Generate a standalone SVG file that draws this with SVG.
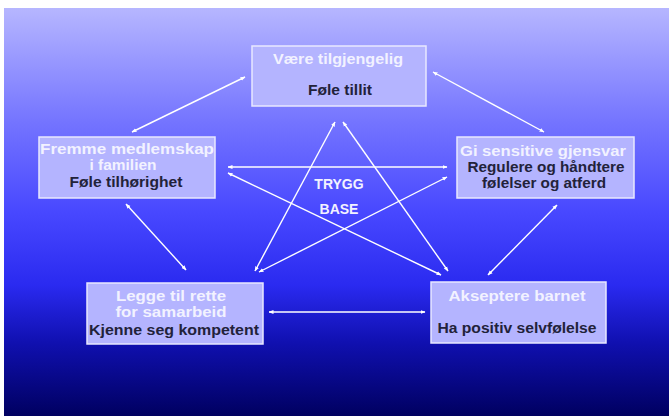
<svg xmlns="http://www.w3.org/2000/svg" width="669" height="416" viewBox="0 0 669 416">
<defs>
<linearGradient id="bg" x1="0" y1="0" x2="0" y2="1">
<stop offset="0" stop-color="#b6b6ff"/>
<stop offset="0.28" stop-color="#7474ff"/>
<stop offset="0.5" stop-color="#4848ff"/>
<stop offset="0.68" stop-color="#2a2af0"/>
<stop offset="0.82" stop-color="#1010b0"/>
<stop offset="1" stop-color="#000060"/>
</linearGradient>
<marker id="ah" viewBox="0 0 10 10" refX="9" refY="5" markerWidth="5" markerHeight="5" orient="auto-start-reverse" markerUnits="userSpaceOnUse">
<path d="M0,1 L10,5 L0,9 z" fill="#ffffff"/>
</marker>
<style>
.box{fill:#b4b4ff;stroke:#e8e8ff;stroke-width:1.5}
.h{font-family:"Liberation Sans",Arial,sans-serif;font-weight:bold;font-size:14px;fill:#f2f2ff;text-anchor:middle}
.t{font-family:"Liberation Sans",Arial,sans-serif;font-weight:bold;font-size:14px;fill:#22223a;text-anchor:middle}
.c{stroke:#ffffff;stroke-width:1.4;fill:none;marker-start:url(#ah);marker-end:url(#ah)}
</style>
</defs>
<rect x="0" y="0" width="669" height="416" fill="#ffffff"/>
<rect x="4" y="8" width="665" height="408" fill="url(#bg)"/>

<g id="connectors">
<line class="c" x1="245" y1="77" x2="132" y2="132"/>
<line class="c" x1="433" y1="72" x2="544" y2="132"/>
<line class="c" x1="126" y1="204" x2="186" y2="270"/>
<line class="c" x1="557" y1="205" x2="488" y2="275"/>
<line class="c" x1="228" y1="167" x2="447" y2="167"/>
<line class="c" x1="228" y1="173" x2="441" y2="275"/>
<line class="c" x1="447" y1="177" x2="259" y2="272"/>
<line class="c" x1="335" y1="122" x2="255" y2="271"/>
<line class="c" x1="343" y1="122" x2="448" y2="271"/>
<line class="c" x1="269" y1="312" x2="425" y2="312"/>
</g>

<g id="node-top">
<rect class="box" x="252" y="46" width="174" height="60"/>
<text class="h" x="338" y="64" textLength="130" lengthAdjust="spacingAndGlyphs">Være tilgjengelig</text>
<text class="t" x="340" y="95" textLength="64" lengthAdjust="spacingAndGlyphs">Føle tillit</text>
</g>

<g id="node-left">
<rect class="box" x="39" y="137" width="176" height="61"/>
<text class="h" x="127" y="154" textLength="174" lengthAdjust="spacingAndGlyphs">Fremme medlemskap</text>
<text class="h" x="123" y="170" textLength="67" lengthAdjust="spacingAndGlyphs">i familien</text>
<text class="t" x="126" y="187" textLength="113" lengthAdjust="spacingAndGlyphs">Føle tilhørighet</text>
</g>

<g id="node-right">
<rect class="box" x="457" y="137" width="177" height="61"/>
<text class="h" x="543" y="156" textLength="166" lengthAdjust="spacingAndGlyphs">Gi  sensitive gjensvar</text>
<text class="t" x="546" y="172" textLength="157" lengthAdjust="spacingAndGlyphs">Regulere og håndtere</text>
<text class="t" x="544" y="188" textLength="124" lengthAdjust="spacingAndGlyphs">følelser og atferd</text>
</g>

<g id="node-bottom-left">
<rect class="box" x="87" y="283" width="176" height="61"/>
<text class="h" x="171" y="301" textLength="110" lengthAdjust="spacingAndGlyphs">Legge til rette</text>
<text class="h" x="171" y="317" textLength="111" lengthAdjust="spacingAndGlyphs">for samarbeid</text>
<text class="t" x="174" y="335" textLength="170" lengthAdjust="spacingAndGlyphs">Kjenne seg kompetent</text>
</g>

<g id="node-bottom-right">
<rect class="box" x="431" y="282" width="175" height="61"/>
<text class="h" x="517" y="301" textLength="137" lengthAdjust="spacingAndGlyphs">Akseptere barnet</text>
<text class="t" x="517" y="333" textLength="159" lengthAdjust="spacingAndGlyphs">Ha positiv selvfølelse</text>
</g>

<g id="center-label">
<text class="h" x="339" y="189">TRYGG</text>
<text class="h" x="339" y="214">BASE</text>
</g>
</svg>
